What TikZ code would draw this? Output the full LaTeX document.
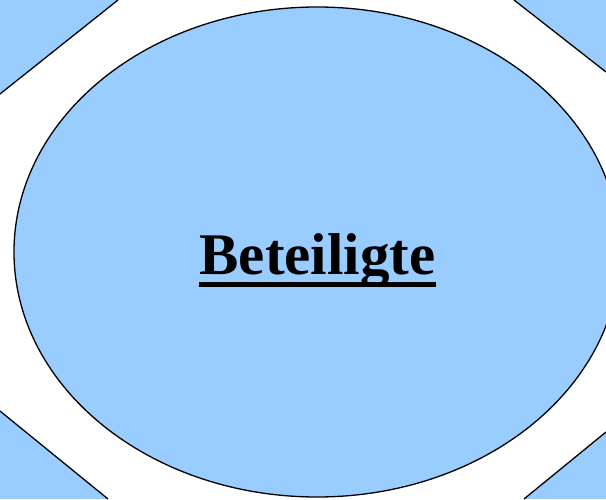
\documentclass[tikz,border=0pt]{standalone}
\usepackage{fontspec}
\setmainfont{Liberation Serif}
\definecolor{lblue}{HTML}{99CCFF}
\begin{document}
\begin{tikzpicture}[x=1pt,y=1pt,
  shapeline/.style={draw=black,line width=1.3pt,fill=lblue}]
\useasboundingbox (0,0) rectangle (606,499);
\clip (0,0) rectangle (606,499);
% corner pieces (y flipped: y' = 499 - y)
\path[fill=lblue] (0,499) -- (118,499) -- (0,405) -- cycle;
\draw[line width=1.3pt] (0,405) coordinate (tlA) -- (118,499) coordinate (tlB);
\path[fill=lblue] (606,499) -- (514,499) -- (606,427) -- cycle;
\draw[line width=1.3pt] (514,499) coordinate (trA) -- (606,427) coordinate (trB);
\path[fill=lblue] (0,0) -- (0,88) -- (108,0) -- cycle;
\draw[line width=1.3pt] (0,88) coordinate (blA) -- (108,0) coordinate (blB);
\path[fill=lblue] (606,0) -- (524,0) -- (606,67) -- cycle;
\draw[line width=1.3pt] (524,0) coordinate (brA) -- (606,67) coordinate (brB);
% main ellipse
\draw[shapeline] (317,247) ellipse [x radius=303, y radius=245];
\node[inner sep=0pt,anchor=base] (t) at (317.5,224) {\fontsize{59pt}{70pt}\selectfont\bfseries Beteiligte};
\fill (t.west |- 0,212) rectangle (t.east |- 0,217);
\end{tikzpicture}
\end{document}
